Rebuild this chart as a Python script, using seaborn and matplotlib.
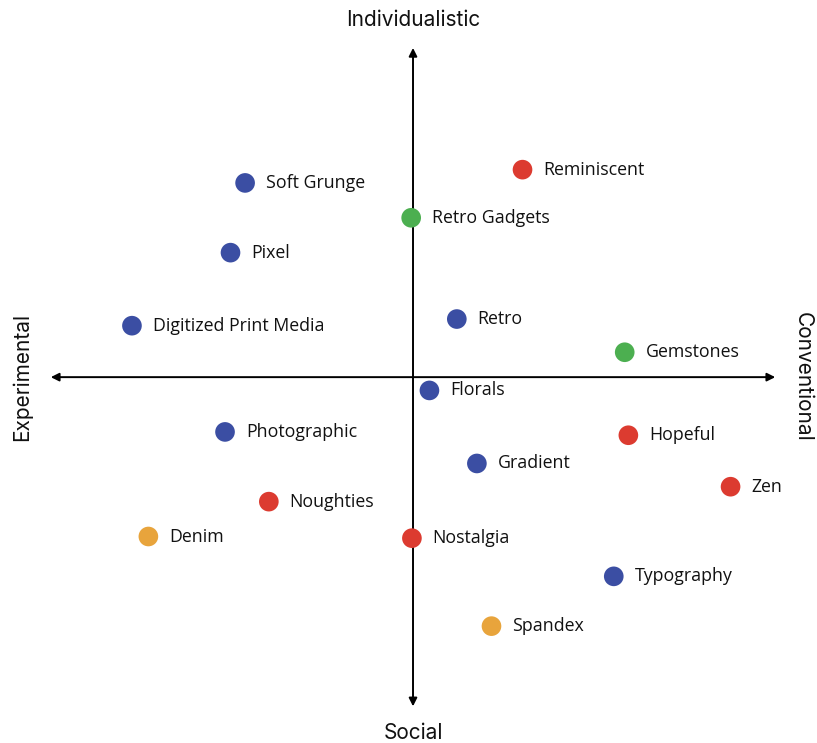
import matplotlib
matplotlib.use('Agg')
import matplotlib.pyplot as plt
import pandas as pd
import seaborn as sns

# trend positions: x = experimental(-) .. conventional(+), y = social(-) .. individualistic(+)
names = ['Soft Grunge', 'Reminiscent', 'Retro Gadgets', 'Pixel', 'Digitized Print Media',
         'Retro', 'Gemstones', 'Florals', 'Photographic', 'Hopeful', 'Gradient', 'Zen',
         'Noughties', 'Denim', 'Nostalgia', 'Typography', 'Spandex']
xs = [-4.6, 3.0, -0.05, -5.0, -7.7, 1.2, 5.8, 0.45, -5.15, 5.9, 1.75, 8.7,
      -3.95, -7.25, -0.03, 5.5, 2.15]
ys = [5.85, 6.25, 4.8, 3.75, 1.55, 1.75, 0.75, -0.4, -1.65, -1.75, -2.6, -3.3,
      -3.75, -4.8, -4.85, -6.0, -7.5]
groups = ['blue', 'red', 'green', 'blue', 'blue', 'blue', 'green', 'blue', 'blue',
          'red', 'blue', 'red', 'red', 'orange', 'red', 'blue', 'orange']

palette = {'blue': '#3b4ea3', 'red': '#dc3b30', 'green': '#4caf50', 'orange': '#e8a43c'}

df = pd.DataFrame({'name': names, 'x': xs, 'y': ys, 'group': groups})

sns.set_style('white')
plt.rcParams['font.family'] = ['Open Sans', 'DejaVu Sans']

fig = plt.figure(figsize=(8.17, 7.43), dpi=100)
ax = fig.add_axes([0, 0, 1, 1])

# axes arrows
ax.annotate('', xy=(10.0, 0), xytext=(-10.0, 0),
            arrowprops=dict(arrowstyle='<|-|>', color='black', lw=1.4, mutation_scale=12))
ax.annotate('', xy=(0, 10.0), xytext=(0, -10.0),
            arrowprops=dict(arrowstyle='<|-|>', color='black', lw=1.4, mutation_scale=12))

sns.scatterplot(data=df, x='x', y='y', hue='group', palette=palette, s=200,
                edgecolor='none', legend=False, ax=ax, zorder=3)

for _, r in df.iterrows():
    ax.annotate(r['name'], (r['x'], r['y']), xytext=(15, 0), textcoords='offset points',
                ha='left', va='center', fontsize=12.8, color='#111111')

lab = dict(fontsize=15, family=['Inter', 'DejaVu Sans'], color='#111111')
ax.text(0, 10.75, 'Individualistic', ha='center', va='center', **lab)
ax.text(0, -10.72, 'Social', ha='center', va='center', **lab)
ax.text(-10.72, 0, 'Experimental', ha='center', va='center', rotation=90, **lab)
ax.text(10.68, 0, 'Conventional', ha='center', va='center', rotation=270, **lab)

ax.set_xlim(-11.315, 11.068)
ax.set_ylim(-11.02, 11.36)
ax.axis('off')

fig.savefig('out.png', dpi=100)
